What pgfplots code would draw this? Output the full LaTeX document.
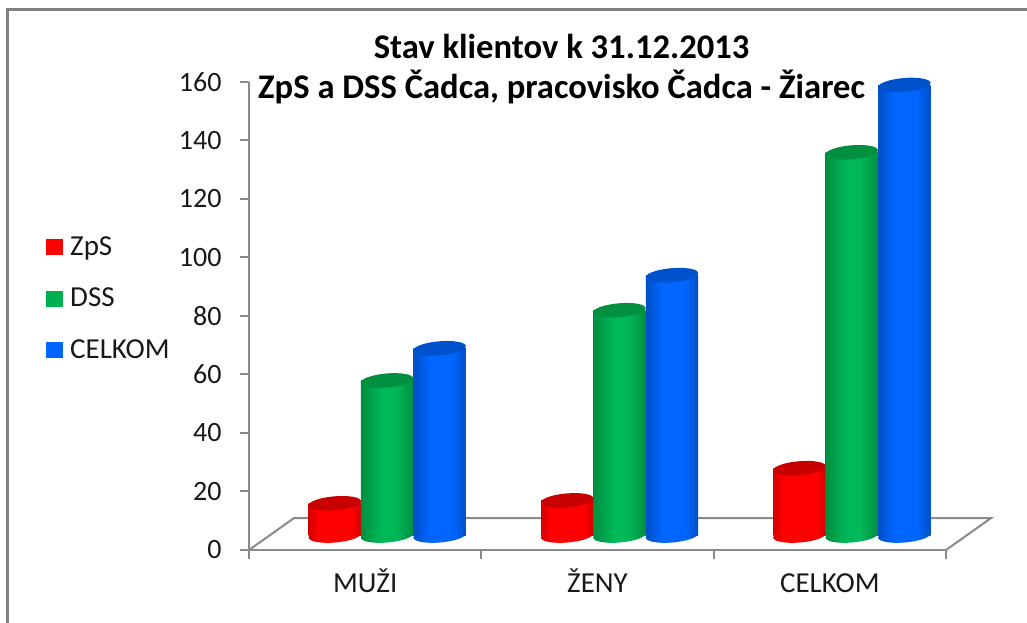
\documentclass[border=0pt]{standalone}
\usepackage{fontspec}
\setmainfont{Carlito}
\usepackage{pgfplots}
\usepackage{pgfplotstable}
\pgfplotsset{compat=1.18}
% 1pt in this file = 1 pixel of the reference

\definecolor{axgray}{HTML}{8A8A8A}
\definecolor{frgray}{HTML}{808080}
\definecolor{redM}{HTML}{FF0000}
\definecolor{redD}{HTML}{D20000}
\definecolor{redT}{HTML}{C80000}
\definecolor{grnM}{HTML}{00B858}
\definecolor{grnD}{HTML}{008E40}
\definecolor{grnT}{HTML}{009040}
\definecolor{bluM}{HTML}{0066FF}
\definecolor{bluD}{HTML}{004FC4}
\definecolor{bluT}{HTML}{0052CC}
\definecolor{legG}{HTML}{00B050}

\pgfdeclarehorizontalshading{cylR}{100bp}{color(0bp)=(redD); color(25bp)=(redD); color(34bp)=(redM); color(66bp)=(redM); color(75bp)=(redD); color(100bp)=(redD)}
\pgfdeclarehorizontalshading{cylG}{100bp}{color(0bp)=(grnD); color(25bp)=(grnD); color(45bp)=(grnM); color(58bp)=(grnM); color(75bp)=(grnD); color(100bp)=(grnD)}
\pgfdeclarehorizontalshading{cylB}{100bp}{color(0bp)=(bluD); color(25bp)=(bluD); color(40bp)=(bluM); color(62bp)=(bluM); color(75bp)=(bluD); color(100bp)=(bluD)}

% tilted ellipse of the cylinder ends
\newcommand{\cylpath}{\pgfpathellipse{\pgfpointorigin}{\pgfqpoint{26.2pt}{2.2pt}}{\pgfqpoint{-0.5pt}{7pt}}}
\pgfdeclareplotmark{cyltop}{\cylpath\pgfusepathqfill}
\pgfdeclareplotmark{baseR}{\cylpath\pgfshadepath{cylR}{0}\pgfusepath{discard}}
\pgfdeclareplotmark{baseG}{\cylpath\pgfshadepath{cylG}{0}\pgfusepath{discard}}
\pgfdeclareplotmark{baseB}{\cylpath\pgfshadepath{cylB}{0}\pgfusepath{discard}}

\pgfplotstableread{
x y
0.5 11
1.5 12
2.5 23
}\zps
\pgfplotstableread{
x y
0.5 53
1.5 77
2.5 131
}\dss
\pgfplotstableread{
x y
0.5 64
1.5 89
2.5 154
}\celkom

% one cylinder: table, x shift, shading, top colour, x range of the category
% (a separate plot per bar, otherwise the shading spans the whole series)
\newcommand{\cyl}[5]{%
  \addplot[forget plot, only marks, mark=base#3, xshift=#2pt, yshift=14.5pt, restrict x to domain=#5] table[x=x, y expr=0] {#1};
  \addplot[forget plot, ybar, bar width=52.4pt, bar shift=0pt, draw=none, shade, shading=cyl#3, xshift=#2pt, yshift=14.5pt, restrict x to domain=#5] table[x=x, y=y] {#1};
  \addplot[forget plot, only marks, mark=cyltop, mark options={fill=#4, draw=none}, xshift=#2pt, yshift=14.5pt, restrict x to domain=#5] table[x=x, y=y] {#1};
}
\newcommand{\cylinders}[4]{%
  \cyl{#1}{#2}{#3}{#4}{0.4:0.6}
  \cyl{#1}{#2}{#3}{#4}{1.4:1.6}
  \cyl{#1}{#2}{#3}{#4}{2.4:2.6}
}

\begin{document}
\begin{tikzpicture}
\useasboundingbox (-249pt,-73pt) rectangle (778pt,550pt);
\draw[frgray, line width=3pt] (-241.5pt,-73pt) -- (-241.5pt,540.5pt) -- (778pt,540.5pt);
\begin{axis}[
    scale only axis,
    width=697pt,
    height=468pt,
    clip=false,
    xmin=0, xmax=3,
    ymin=0, ymax=160,
    axis x line*=bottom,
    axis y line*=left,
    axis line style={axgray, line width=2pt},
    tick style={axgray, line width=2pt},
    tick align=outside,
    major tick length=9pt,
    xtick={0,1,2,3},
    xticklabels={},
    extra x ticks={0.5,1.5,2.5},
    extra x tick labels={MUŽI,ŽENY,CELKOM},
    extra x tick style={major tick length=0pt, tick style={draw=none}},
    ytick={0,20,40,60,80,100,120,140,160},
    /pgf/number format/assume math mode=true,
    tick label style={font=\fontsize{28}{32}\selectfont, text=black!90},
    x tick label style={font=\fontsize{29}{32}\selectfont, text height=18pt, text depth=0pt, anchor=north, yshift=-21pt},
    y tick label style={xshift=-15pt},
    title={Stav klientov k 31.12.2013\\ZpS a DSS Čadca, pracovisko Čadca - Žiarec},
    title style={font=\fontsize{34.6}{40}\selectfont\bfseries, align=center, at={(axis description cs:0.4485,1.015)}, anchor=center, inner sep=0pt},
    legend style={at={(-203pt,313pt)}, anchor=north west, draw=none, fill=none, font=\fontsize{29}{32}\selectfont, text=black!90, row sep=33.5pt, inner sep=0pt, nodes={inner sep=0pt, text height=18pt, text depth=0pt}},
    legend cell align=left,
    legend image code/.code={\fill[#1] (0pt,-9pt) rectangle (17pt,7pt); \path (24pt,0pt);},
]
\addlegendimage{fill=redM, draw=none}
\addlegendimage{fill=legG, draw=none}
\addlegendimage{fill=bluM, draw=none}
\legend{ZpS,DSS,CELKOM}

% floor of the 3d box
\addplot[forget plot, axgray, line width=2pt, line join=miter] coordinates {(0,0) (0.1937,10.9) (3.1937,10.9) (3,0)};

\cylinders{\zps}{-30.3}{R}{redT}
\cylinders{\dss}{21.9}{G}{grnT}
\cylinders{\celkom}{74.5}{B}{bluT}
\end{axis}
\end{tikzpicture}
\end{document}
